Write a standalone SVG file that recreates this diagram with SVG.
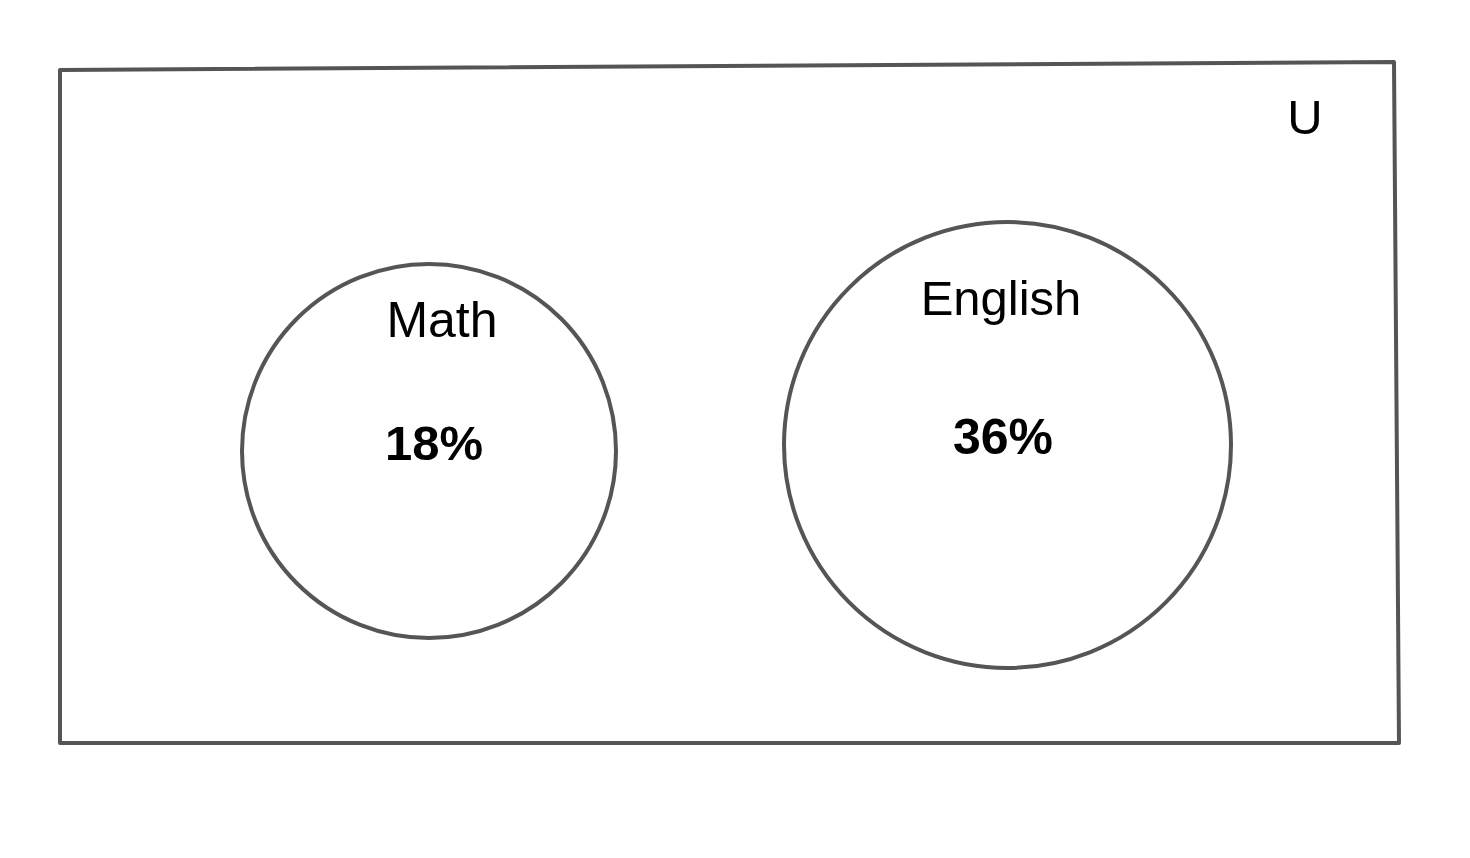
<svg xmlns="http://www.w3.org/2000/svg" width="1470" height="858" viewBox="0 0 1470 858">
<style>
.shape{fill:none;stroke:#555;stroke-width:4;stroke-linejoin:round}
.lbl{font-family:"Liberation Sans",Arial,sans-serif;font-size:49px;fill:#000;text-anchor:middle}
.val{font-family:"Liberation Sans",Arial,sans-serif;font-size:49px;font-weight:bold;fill:#000;text-anchor:middle}
</style>
<rect width="1470" height="858" fill="#fff"/>
<g id="universe">
<path class="shape" d="M60,70 L1394,62 L1399,743 L60,743 Z"/>
<text class="lbl" x="1305" y="134">U</text>
</g>
<g id="math">
<ellipse class="shape" cx="429" cy="451" rx="187" ry="187"/>
<text class="lbl" x="442" y="337" style="font-size:50px">Math</text>
<text class="val" x="434" y="460">18%</text>
</g>
<g id="english">
<ellipse class="shape" cx="1007.5" cy="445" rx="223.5" ry="223"/>
<text class="lbl" x="1001" y="315">English</text>
<text class="val" x="1003" y="454" style="font-size:50px">36%</text>
</g>
<g id="connectors"></g>
</svg>
